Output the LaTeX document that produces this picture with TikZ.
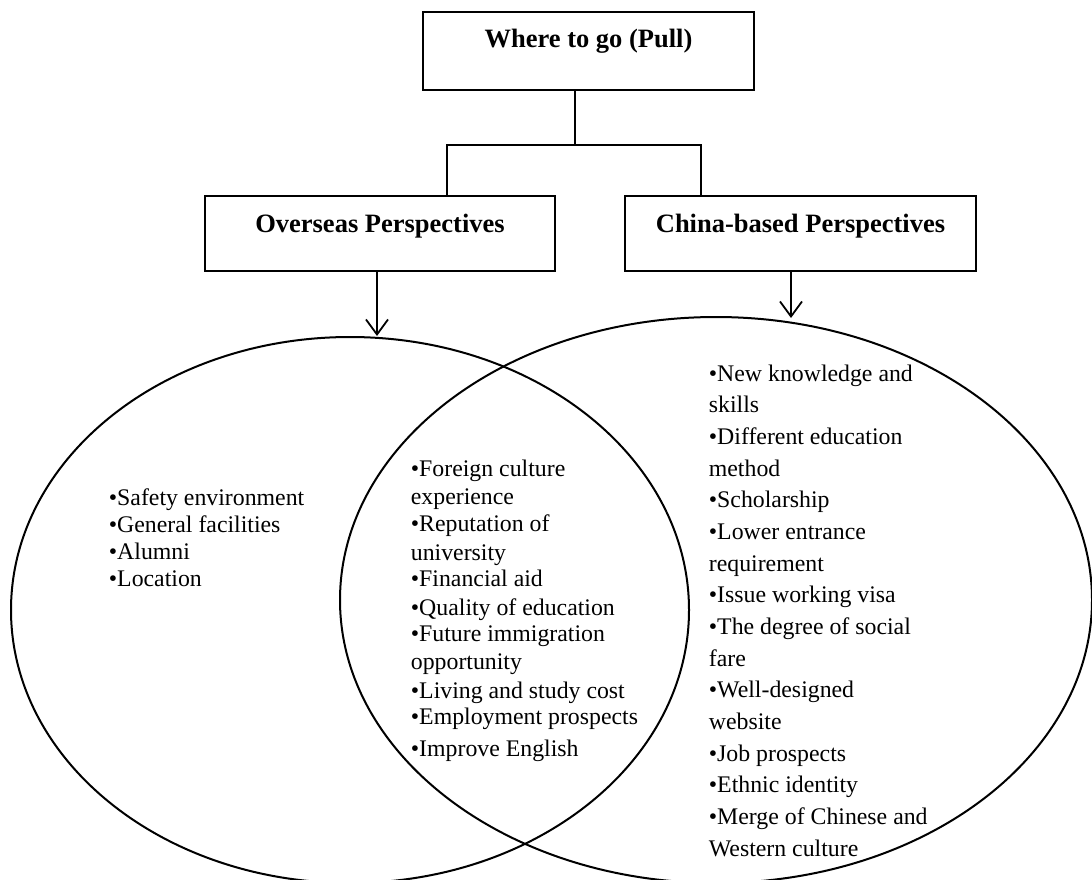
\documentclass[tikz,border=0pt]{standalone}
\usepackage{fontspec}
\setmainfont{Liberation Serif}
\usetikzlibrary{arrows.meta,shapes.geometric}
\begin{document}
\begin{tikzpicture}[x=1pt,y=-1pt,
  line width=1.8pt,
  headbox/.style={draw, rectangle, inner sep=0pt, font=\fontsize{26.5}{30}\selectfont\bfseries},
  venn/.style={draw, ellipse, inner sep=0pt, line width=2pt},
  item/.style={inner sep=0pt, anchor=base west, font=\fontsize{23.8}{27.5}\selectfont},
  arr/.style={-{Straight Barb[length=15pt,width=22pt,line width=1.8pt]}}
]
\useasboundingbox (0,0) rectangle (1092,879);
\clip (0,0) rectangle (1092,879);
\fill[white] (0,0) rectangle (1092,879);

% boxes
\node[headbox, anchor=north, minimum width=331pt, text height=35.7pt, text depth=42.3pt] (top) at (588.5,11) {Where to go (Pull)};
\node[headbox, anchor=north, minimum width=350pt, text height=36.7pt, text depth=38.3pt] (left) at (380,195) {Overseas Perspectives};
\node[headbox, anchor=north, minimum width=351pt, text height=36.7pt, text depth=38.3pt] (right) at (800.5,195) {China-based Perspectives};

% connectors
\coordinate (j) at (575,145);
\coordinate (jl) at (447,145);
\coordinate (jr) at (701,145);
\draw (top.south -| j) -- (j);
\draw (left.north -| jl) -- (jl) -- (jr) -- (right.north -| jr);

% ellipses
\node[venn, minimum width=678pt, minimum height=546pt] (E1) at (350,610) {};
\node[venn, minimum width=752pt, minimum height=566pt] (E2) at (716,600) {};

% arrows
\coordinate (lt) at (377,336);
\coordinate (rt) at (791,318);
\draw[arr] (left.south -| lt) -- (lt);
\draw[arr] (right.south -| rt) -- (rt);

% left items
\foreach \t [count=\i] in {{•Safety environment},{•General facilities},{•Alumni},{•Location}}
  \node[item] (l\i) at (108, {505+27*(\i-1)}) {\t};

% middle items
\foreach \t/\yy [count=\i] in {{•Foreign culture}/476,{experience}/504,{•Reputation of}/531,{university}/560,{•Financial aid}/586,{•Quality of education}/615,{•Future immigration}/641,{opportunity}/669,{•Living and study cost}/698,{•Employment prospects}/724,{•Improve English}/756}
  \node[item] (m\i) at (410,\yy) {\t};

% right items
\foreach \t [count=\i] in {{•New knowledge and},{skills},{•Different education},{method},{•Scholarship},{•Lower entrance},{requirement},{•Issue working visa},{•The degree of social},{fare},{•Well-designed},{website},{•Job prospects},{•Ethnic identity},{•Merge of Chinese and},{Western culture}}
  \node[item] (r\i) at (708, {381+31.67*(\i-1)}) {\t};
\end{tikzpicture}
\end{document}
